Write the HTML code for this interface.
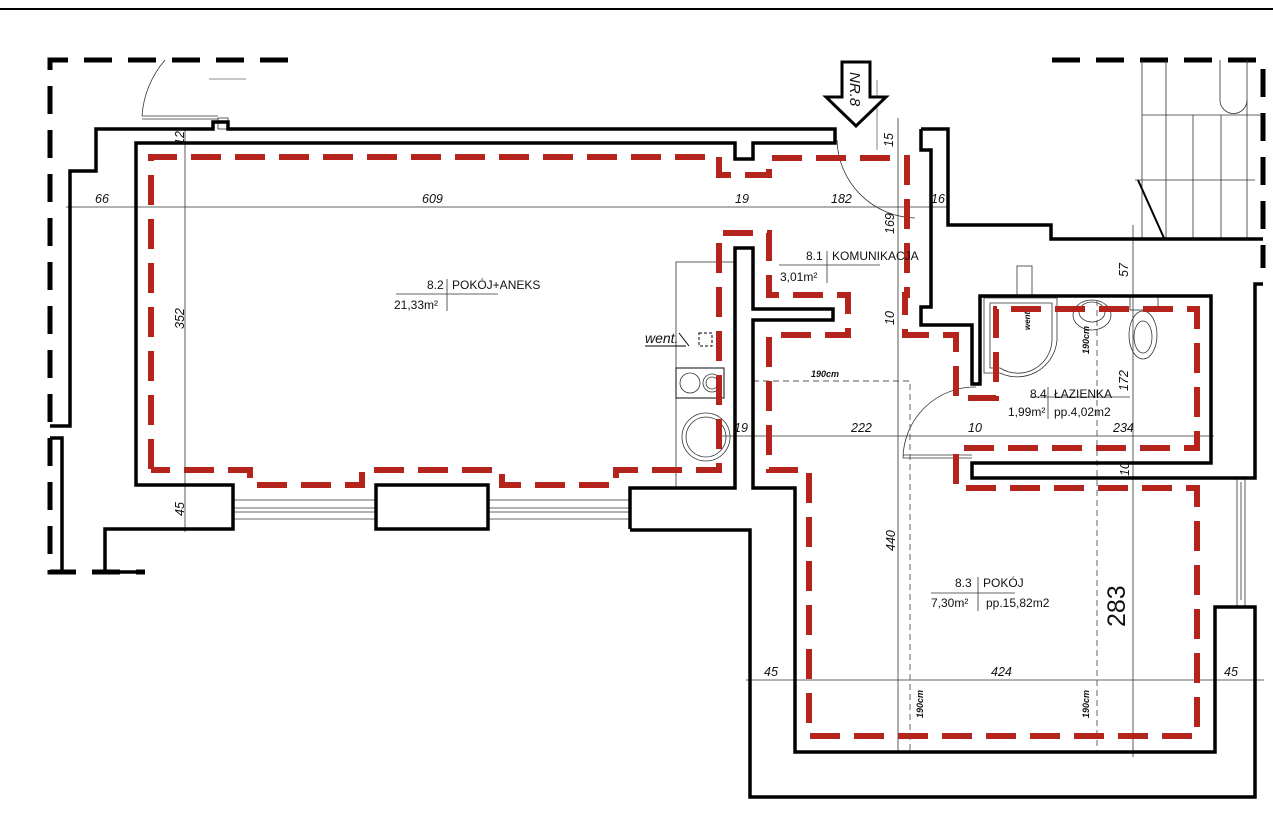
<!DOCTYPE html>
<html><head><meta charset="utf-8"><style>
html,body{margin:0;padding:0;background:#fff;}
svg{display:block;}
text{font-family:"Liberation Sans",sans-serif;fill:#111;}
.d{font-size:12.5px;font-style:italic;}
.l{font-size:12px;}
</style></head><body>
<svg width="1273" height="816" viewBox="0 0 1273 816" xmlns="http://www.w3.org/2000/svg">
<line x1="0" y1="9" x2="1273" y2="9" stroke="#000" stroke-width="2"/>
<g stroke="#000" stroke-width="5" fill="none" stroke-dasharray="28 16">
<path d="M288,60 H50 V572 H145"/>
<path d="M1052,60 H1263 V268"/>
</g>
<g stroke="#333" stroke-width="0.8" fill="none">
<line x1="66" y1="207" x2="948" y2="207"/>
<line x1="185" y1="128" x2="185" y2="532"/>
<line x1="898" y1="118" x2="898" y2="752"/>
<line x1="1133" y1="225" x2="1133" y2="757"/>
<line x1="718" y1="436" x2="1214" y2="436"/>
<line x1="746" y1="680" x2="1264" y2="680"/>
<line x1="209" y1="79" x2="246" y2="79" stroke="#666"/>
<path d="M142,116 A95,95 0 0 1 165,60"/>
<path d="M142,116 H218 M142,119 H218"/>
<rect x="218" y="118" width="10" height="11"/>
<path d="M837,140 A80,80 0 0 0 915,218"/>
<path d="M903,458 A72,72 0 0 1 976,387"/>
<path d="M903,455 H972 M903,458 H972"/>
<line x1="877" y1="80" x2="877" y2="150" stroke-width="0.6"/>
<path d="M233,500 H376 M233,519 H376 M233,508 H376 M233,512 H376 M488,500 H630 M488,519 H630 M488,508 H630 M488,512 H630"/>
<path d="M1237,478 V607 M1245,478 V607 M1241,482 V600"/>
<rect x="676" y="262" width="59" height="226"/>
<rect x="676" y="368" width="48" height="30" stroke-width="1.2"/>
<circle cx="690" cy="383" r="10"/><circle cx="712" cy="383" r="9"/><circle cx="712" cy="383" r="6"/>
<circle cx="706" cy="437" r="24"/><circle cx="706" cy="437" r="20"/>
<path d="M984,298 H1057 V340 A40,40 0 0 1 1000,373 H984 Z"/>
<path d="M990,303 H1052 V340 A34,34 0 0 1 1000,368 H990 Z"/>
<ellipse cx="1092" cy="315" rx="19" ry="15"/>
<ellipse cx="1092" cy="312" rx="13" ry="10"/>
<ellipse cx="1143" cy="335" rx="14" ry="24"/><ellipse cx="1143" cy="337" rx="9" ry="16"/>
<rect x="1130" y="296" width="28" height="14"/>
<rect x="1017" y="266" width="15" height="30"/>
<path d="M1142,60 V239 M1166,60 V239 M1193,115 V239 M1221,115 V239 M1247,60 V239 M1135,180 H1255 M1142,115 H1263"/>
<path d="M1220,60 V100 A12,12 0 0 0 1247,100"/>
</g>
<line x1="1138" y1="180" x2="1164" y2="238" stroke="#000" stroke-width="2"/>
<g stroke="#555" stroke-width="0.9" fill="none" stroke-dasharray="6 4">
<path d="M753,381 H910 V752"/>
<path d="M1097,300 V752"/>
</g>
<line x1="1030" y1="397" x2="1130" y2="397" stroke="#333" stroke-width="0.7"/>
<g stroke="#000" stroke-width="3.5" fill="none" stroke-linejoin="miter">
<path d="M50,426 H70 V171 H96 V129 H213 V122 H228 V129 H835 V143 H753 V159 H735 V143 H136 V485 H233 V529 H105 V572 H143"/>
<path d="M50,438 H62 V572"/>
<rect x="376" y="485" width="112" height="44"/>
<path d="M630,529 V488 H735 V248 H753 V309 H833 V320 H753 V488 H795 V752 H1215 V607 H1255 V797 H750 V530 H630"/>
<path d="M921,129 H948 V225 H1051 V239 H1263"/>
<path d="M921,129 V150 H931 V307 H921 V325 H972 V384 H980 V296 H1211 V463 H972 V478 H1255 V284 H1263"/>
</g>
<g stroke="#b5241c" stroke-width="6" fill="none" stroke-dasharray="30 14">
<path d="M151,469 V157 H719 V175 H769 V158 H907 V295 H905 V335 H956 V398 H996 V309 H1197 V448 H956 V488 H1197 V736 H809 V470 H769 V335 H848 V295 H769 V233 H719 V470 H616 V485 H502 V470 H362 V485 H250 V470 H151"/>
</g>
<polygon points="842,62 870,62 870,97 886,97 856,126 826,97 842,97" fill="#fff" stroke="#000" stroke-width="3"/>
<text transform="translate(850,72) rotate(90)" font-style="italic" font-size="15">NR.8</text>
<text class="d" x="95" y="203">66</text>
<text class="d" x="422" y="203">609</text>
<text class="d" x="735" y="203">19</text>
<text class="d" x="831" y="203">182</text>
<text class="d" x="931" y="203">16</text>
<text class="d" transform="translate(894,234) rotate(-90)">169</text>
<text class="d" transform="translate(184,145) rotate(-90)">12</text>
<text class="d" transform="translate(893,147) rotate(-90)">15</text>
<text class="d" transform="translate(184,329) rotate(-90)">352</text>
<text class="d" transform="translate(184,516) rotate(-90)">45</text>
<text class="d" transform="translate(894,325) rotate(-90)">10</text>
<text class="d" transform="translate(1128,277) rotate(-90)">57</text>
<text class="d" transform="translate(1128,391) rotate(-90)">172</text>
<text class="d" transform="translate(1129,476) rotate(-90)">10</text>
<text class="d" x="734" y="432">19</text>
<text class="d" x="851" y="432">222</text>
<text class="d" x="968" y="432">10</text>
<text class="d" x="1113" y="432">234</text>
<text class="d" transform="translate(895,551) rotate(-90)">440</text>
<text transform="translate(1125,627) rotate(-90)" font-size="25">283</text>
<text class="d" x="764" y="676">45</text>
<text class="d" x="991" y="676">424</text>
<text class="d" x="1224" y="676">45</text>
<g font-size="9" font-style="italic" font-weight="bold">
<text x="811" y="377">190cm</text>
<text transform="translate(923,718) rotate(-90)">190cm</text>
<text transform="translate(1089,718) rotate(-90)">190cm</text>
<text transform="translate(1089,354) rotate(-90)">190cm</text>
<text transform="translate(1030,330) rotate(-90)" font-size="8">went</text>
</g>
<g class="l">
<text x="427" y="289">8.2</text><text x="452" y="289">POKÓJ+ANEKS</text>
<text x="394" y="309">21,33m²</text>
<line x1="396" y1="294" x2="498" y2="294" stroke="#333" stroke-width="0.8"/>
<line x1="447" y1="279" x2="447" y2="311" stroke="#333" stroke-width="0.8"/>
<text x="806" y="260">8.1</text><text x="832" y="260">KOMUNIKACJA</text>
<text x="780" y="281">3,01m²</text>
<line x1="779" y1="265" x2="880" y2="265" stroke="#333" stroke-width="0.8"/>
<line x1="827" y1="251" x2="827" y2="283" stroke="#333" stroke-width="0.8"/>
<text x="1030" y="398">8.4</text><text x="1054" y="398">ŁAZIENKA</text>
<text x="1008" y="416">1,99m²</text><text x="1054" y="416">pp.4,02m2</text>
<line x1="1048" y1="387" x2="1048" y2="419" stroke="#333" stroke-width="0.8"/>
<text x="955" y="587">8.3</text><text x="983" y="587">POKÓJ</text>
<text x="931" y="607">7,30m²</text><text x="986" y="607">pp.15,82m2</text>
<line x1="931" y1="593" x2="1015" y2="593" stroke="#333" stroke-width="0.8"/>
<line x1="978" y1="577" x2="978" y2="611" stroke="#333" stroke-width="0.8"/>
</g>
<text x="645" y="343" font-size="14" font-style="italic">went.</text>
<line x1="645" y1="346" x2="686" y2="346" stroke="#000" stroke-width="1"/>
<path d="M679,333 L689,346" stroke="#000" stroke-width="1"/>
<rect x="699" y="333" width="13" height="13" fill="none" stroke="#000" stroke-width="1" stroke-dasharray="3 2"/>
</svg>
</body></html>
